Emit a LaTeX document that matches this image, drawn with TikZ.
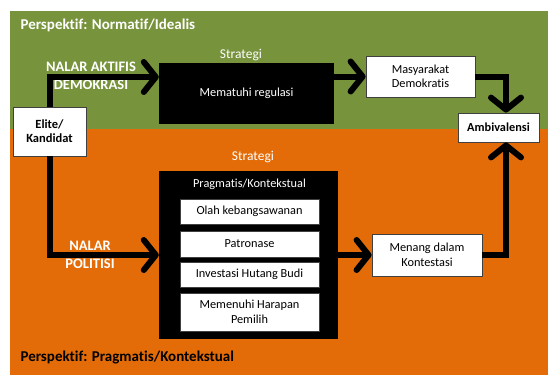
\documentclass[tikz,border=0pt]{standalone}
\usepackage{fontspec}
\setmainfont{Carlito}[Ligatures={NoCommon,NoContextual,NoRequired}]
\usetikzlibrary{arrows.meta}
\definecolor{olivegreen}{HTML}{77933C}
\definecolor{darkorange}{HTML}{E36C09}
\definecolor{boxline}{HTML}{404040}
\tikzset{
  x=1pt,y=1pt,
  whitebox/.style={draw=boxline,line width=0.8pt,fill=white,align=center,inner sep=0pt,font=\fontsize{12.3}{14.5}\selectfont},
  blackbox/.style={fill=black,inner sep=0pt},
  bigarrow/.style={line width=6pt,-{Straight Barb[length=12pt,width=30pt,line cap=round,line join=round]}},
  persp/.style={anchor=west,font=\bfseries\fontsize{15}{16}\selectfont},
  nalar/.style={text=white,align=center,font=\bfseries\fontsize{14.5}{18}\selectfont},
  strat/.style={text=white,font=\fontsize{13.5}{15}\selectfont},
}
\begin{document}
\begin{tikzpicture}
\useasboundingbox (0,0) rectangle (548,-375);
\fill[white] (0,0) rectangle (548,-375);
\fill[olivegreen] (10,-11) rectangle (548,-129);
\fill[darkorange] (10,-129) rectangle (548,-375);
\node[persp,text=white] (p1) at (17,-25) {Perspektif: Normatif/Idealis};
\node[persp,text=black] (p2) at (17,-358) {Perspektif: Pragmatis/Kontekstual};
% nodes
\node[whitebox,minimum width=73,minimum height=49,font=\bfseries\fontsize{12.5}{14}\selectfont] (elite) at (49.5,-131.5) {Elite/\\Kandidat};
\node[blackbox,minimum width=175,minimum height=61,text=white,font=\fontsize{12.3}{14}\selectfont] (b1) at (246.5,-93.5) {Mematuhi regulasi};
\node[strat] (s1) at (241,-55) {Strategi};
\node[whitebox,minimum width=109,minimum height=41] (masy) at (420.5,-76.5) {Masyarakat\\Demokratis};
\node[whitebox,minimum width=81,minimum height=29,font=\bfseries\fontsize{12.3}{14}\selectfont] (amb) at (498.5,-127.5) {Ambivalensi};
\node[blackbox,minimum width=179,minimum height=168] (b2) at (248.5,-255) {};
\node[strat] (s2) at (253,-157) {Strategi};
\node[text=white,font=\fontsize{12.3}{14}\selectfont] (pk) at (249.5,-184) {Pragmatis/Kontekstual};
\node[whitebox,minimum width=139,minimum height=25] (i1) at (249.5,-211.5) {Olah kebangsawanan};
\node[whitebox,minimum width=139,minimum height=26] (i2) at (249.5,-244) {Patronase};
\node[whitebox,minimum width=139,minimum height=25] (i3) at (249.5,-274.5) {Investasi Hutang Budi};
\node[whitebox,minimum width=139,minimum height=38] (i4) at (249.5,-312) {Memenuhi Harapan\\Pemilih};
\node[whitebox,minimum width=110,minimum height=42] (men) at (427,-255) {Menang dalam\\Kontestasi};
\node[nalar] (n1) at (91,-76) {NALAR AKTIFIS\\DEMOKRASI};
\node[nalar] (n2) at (90,-255) {NALAR\\POLITISI};
% connectors
\draw[bigarrow] (elite.north) |- ([yshift=16.5]b1.west);
\draw[bigarrow] (b1.east |- masy.west) -- (masy.west);
\draw[bigarrow] (masy.east) -| ([xshift=7.5]amb.north);
\draw[bigarrow] (elite.south) |- (b2.west);
\draw[bigarrow] (b2.east) -- (men.west);
\draw[bigarrow] (men.east) -| ([xshift=7.5]amb.south);
\end{tikzpicture}
\end{document}
